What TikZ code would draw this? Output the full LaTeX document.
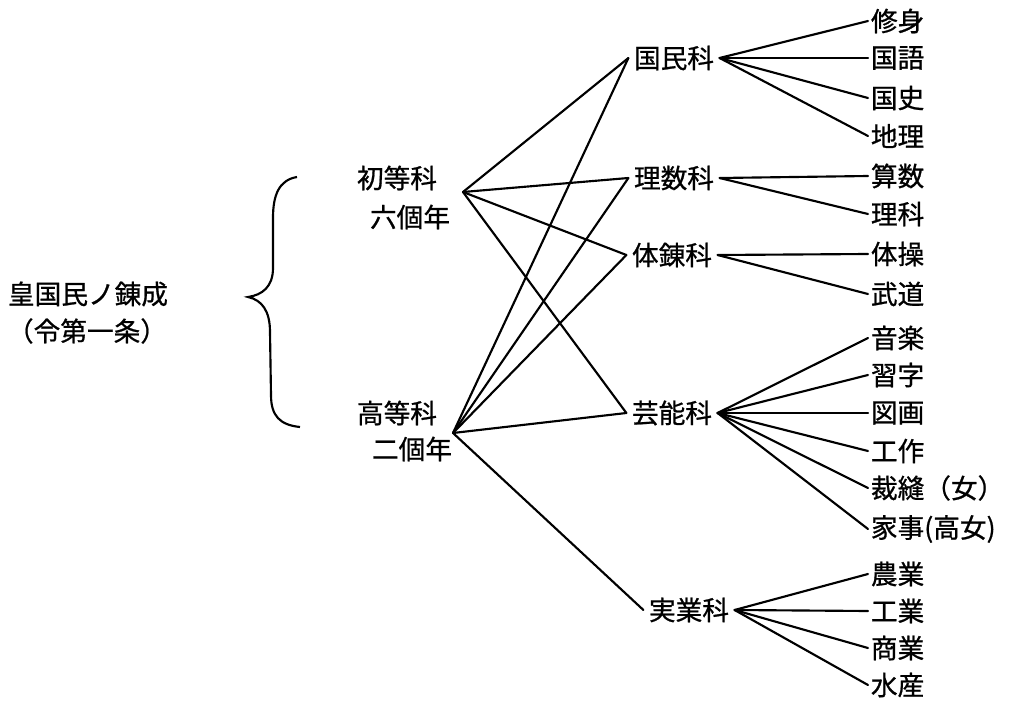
\documentclass[tikz,border=0pt]{standalone}
\usepackage{fontspec}
\setmainfont{Noto Sans CJK JP}[FakeBold=0.8]
\begin{document}
\begin{tikzpicture}[x=0.75pt,y=-0.75pt,
  txt/.style={inner sep=0pt,font=\fontsize{20}{24}\selectfont},
  mid/.style={txt,inner sep=4pt},
  leaf/.style={txt,inner sep=2pt,anchor=west},
  link/.style={line width=1.6pt,line cap=round,line join=round}]
\useasboundingbox (0,0) rectangle (1026,703);
% left labels
\node[txt] (main) at (88,294) {皇国民ノ錬成};
\node[txt] (mainsub) at (87,331) {（令第一条）};
% brace
\draw[line width=1.6pt] (297,177) .. controls (279,180) and (273,195) .. (273,218) -- (273,268)
  .. controls (273,287) and (262,295) .. (248,297)
  .. controls (262,300) and (270,311) .. (270,332) -- (271,395)
  .. controls (271,416) and (280,425) .. (300,427);
% course nodes
\node[txt] (sho) at (397,178) {初等科};
\node[txt] (shoy) at (410,217) {六個年};
\node[txt] (kou) at (397,413) {高等科};
\node[txt] (kouy) at (412,449) {二個年};
\coordinate (jsho) at (463,192);
\coordinate (jkou) at (453,433);
% middle
\node[mid] (kokumin) at (674,58) {国民科};
\node[mid] (risu) at (674,178) {理数科};
\node[mid] (tairen) at (672,255) {体錬科};
\node[mid] (geino) at (672,413) {芸能科};
\node[mid] (jitsu) at (689,610) {実業科};
% leaves
\node[leaf] (l1) at (868,21) {修身};
\node[leaf] (l2) at (868,58) {国語};
\node[leaf] (l3) at (868,98) {国史};
\node[leaf] (l4) at (868,136) {地理};
\node[leaf] (l5) at (868,176) {算数};
\node[leaf] (l6) at (868,214) {理科};
\node[leaf] (l7) at (868,254) {体操};
\node[leaf] (l8) at (868,294) {武道};
\node[leaf] (l9) at (868,338) {音楽};
\node[leaf] (l10) at (868,375) {習字};
\node[leaf] (l11) at (868,413) {図画};
\node[leaf] (l12) at (868,451) {工作};
\node[leaf] (l13) at (868,488) {裁縫（女）};
\node[leaf] (l14) at (868,529) {家事(高女)};
\node[leaf] (l15) at (868,574) {農業};
\node[leaf] (l16) at (868,611) {工業};
\node[leaf] (l17) at (868,648) {商業};
\node[leaf] (l18) at (868,685) {水産};
% links from courses
\draw[link] (jsho) -- (kokumin.west);
\draw[link] (jsho) -- (risu.west);
\draw[link] (jsho) -- (tairen.west);
\draw[link] (jsho) -- (geino.west);
\draw[link] (jkou) -- (kokumin.west);
\draw[link] (jkou) -- (risu.west);
\draw[link] (jkou) -- (tairen.west);
\draw[link] (jkou) -- (geino.west);
\draw[link] (jkou) -- (jitsu.west);
% links to subjects
\foreach \l in {l1,l2,l3,l4} \draw[link] (kokumin.east) -- (\l.west);
\foreach \l in {l5,l6} \draw[link] (risu.east) -- (\l.west);
\foreach \l in {l7,l8} \draw[link] (tairen.east) -- (\l.west);
\foreach \l in {l9,l10,l11,l12,l13,l14} \draw[link] (geino.east) -- (\l.west);
\foreach \l in {l15,l16,l17,l18} \draw[link] (jitsu.east) -- (\l.west);
\end{tikzpicture}
\end{document}
